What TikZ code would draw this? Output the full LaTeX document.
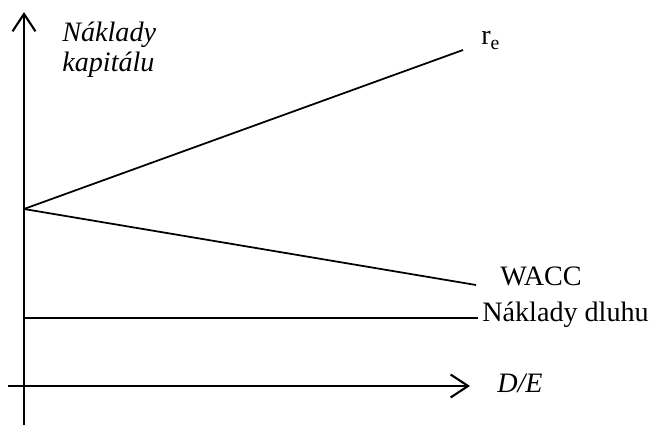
\documentclass[tikz,border=0pt]{standalone}
\usepackage{fontspec}
\setmainfont{Liberation Serif}
\usetikzlibrary{arrows.meta}

\providecommand*{\xMin}{}
\providecommand*{\xMax}{}
\providecommand*{\yMin}{}
\providecommand*{\yMax}{}
\renewcommand*{\xMin}{-0.32}
\renewcommand*{\xMax}{8.92}
\renewcommand*{\yMin}{-0.78}
\renewcommand*{\yMax}{7.48}

\tikzset{
  axis/.style={line width=1.2pt,-{Straight Barb[length=3.5mm,width=4.6mm]}},
  curve/.style={line width=1pt},
  lbl/.style={inner sep=0pt,font=\fontsize{16}{17}\selectfont},
}

\begin{document}
\begin{tikzpicture}
  \useasboundingbox (-0.48,-0.8) rectangle (12.6,7.72);
  \coordinate (ybot) at (0,\yMin);
  \coordinate (ytop) at (0,\yMax);
  \coordinate (xleft) at (\xMin,0);
  \coordinate (xright) at (\xMax,0);
  \coordinate (start) at (0,3.54);
  \coordinate (reEnd) at (8.78,6.72);
  \coordinate (waccEnd) at (9.04,2.02);
  \coordinate (debtStart) at (0,1.36);
  \coordinate (debtEnd) at (9.08,1.36);
  % axes
  \draw [axis] (ybot) -- (ytop);
  \draw [axis] (xleft) -- (xright);
  \node (ylabel) [lbl,font=\fontsize{16}{17}\selectfont\itshape,align=left,anchor=north west]
    at (0.76,7.29) {Náklady\\kapitálu};
  \node (xlabel) [lbl,font=\fontsize{16}{17}\selectfont\itshape,anchor=base west]
    at (9.46,-0.14) {D/E};
  % cost lines
  \draw [curve] (start) -- (reEnd);
  \draw [curve] (start) -- (waccEnd);
  \draw [curve] (debtStart) -- (debtEnd);
  \node (relabel) [lbl,anchor=base west] at (9.14,6.82) {r\textsubscript{e}};
  \node (wacclabel) [lbl,anchor=base west] at (9.52,2.0) {WACC};
  \node (debtlabel) [lbl,anchor=base west] at (9.16,1.28) {Náklady dluhu};
\end{tikzpicture}
\end{document}
